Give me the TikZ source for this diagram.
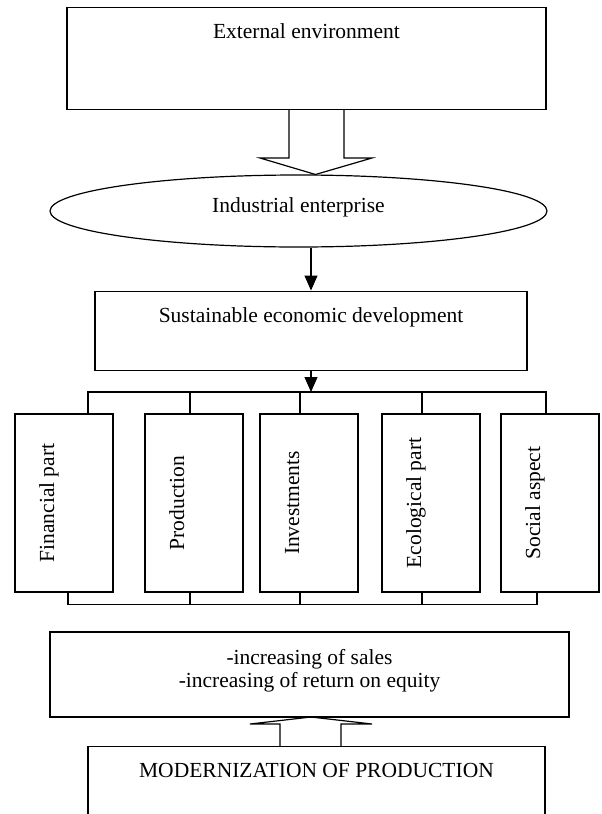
\documentclass[tikz,border=0pt]{standalone}
\usepackage{fontspec}
\setmainfont{Liberation Serif}
\usetikzlibrary{shapes.geometric, arrows.meta, positioning}

\begin{document}
\begin{tikzpicture}[x=1pt, y=-1pt,
  font=\fontsize{21.5}{23}\selectfont,
  box/.style={draw, line width=1.2pt, inner sep=0pt, align=center},
  partbox/.style={box, rotate=90, minimum width=178pt, minimum height=98pt,
    text height=15pt, text depth=35pt},
  link/.style={line width=1.2pt},
  flow/.style={link, -{Triangle[length=15pt, width=13pt]}},
  bigarrow/.style={line width=1.2pt, line join=miter}]

  \useasboundingbox (0,0) rectangle (602,814);
  \clip (0,0) rectangle (602,814);

  % Bus heights
  \def\busT{392}
  \def\busB{604}

  % === Main boxes
  \node[box, anchor=north, minimum width=479pt, text height=31pt, text depth=71pt]
    (ext) at (306.5,7) {External environment};
  \node[box, ellipse, minimum width=497pt, minimum height=72pt, text height=15pt, text depth=13pt]
    (ind) at (298.5,211) {Industrial enterprise};
  \node[box, anchor=north, minimum width=432pt, text height=31pt, text depth=48pt]
    (sus) at (311,290.5) {Sustainable economic development};
  \node[box, minimum width=519pt, minimum height=85pt, text depth=13pt]
    (res) at (309.5,674.5) {-increasing of sales\\-increasing of return on equity};
  \node[box, anchor=north, minimum width=457pt, text height=31pt, text depth=60pt]
    (mod) at (316.5,746) {MODERNIZATION OF PRODUCTION};

  % === Parts of the development
  \foreach \nm/\px/\txt in {fin/64/Financial part, pro/194/Production,
      inv/309/Investments, eco/431/Ecological part, soc/550/Social aspect}
    \node[partbox] (\nm) at (\px,503) {\txt};

  % === Block arrows
  \draw[bigarrow] (289,109) -- (289,158) -- (260,158) -- (315.5,174.5)
    -- (372,158) -- (344,158) -- (344,109);
  \draw[bigarrow] (280,746) -- (280,724) -- (250,724) -- (311,717)
    -- (372,724) -- (341,724) -- (341,746);

  % === Arrows
  \coordinate (split) at (311,\busT);
  \draw[flow] (sus.north |- ind.south) -- (sus.north);
  \draw[flow] (sus.south) -- (split);

  % Top bus
  \draw[link] ([xshift=24pt]fin.east) |- (split) -| ([xshift=-4pt]soc.east);
  \foreach \nm/\sh in {pro/-4, inv/-9, eco/-9}
    \draw[link] ([xshift=\sh pt]\nm.east) -- ++(0,-22);

  % Bottom bus
  \draw[link] ([xshift=4pt]fin.west) -- ++(0,\busB-592) -| ([xshift=-13pt]soc.west);
  \foreach \nm/\sh in {pro/-4, inv/-9, eco/-9}
    \draw[link] ([xshift=\sh pt]\nm.west) -- ++(0,\busB-592);

\end{tikzpicture}
\end{document}
